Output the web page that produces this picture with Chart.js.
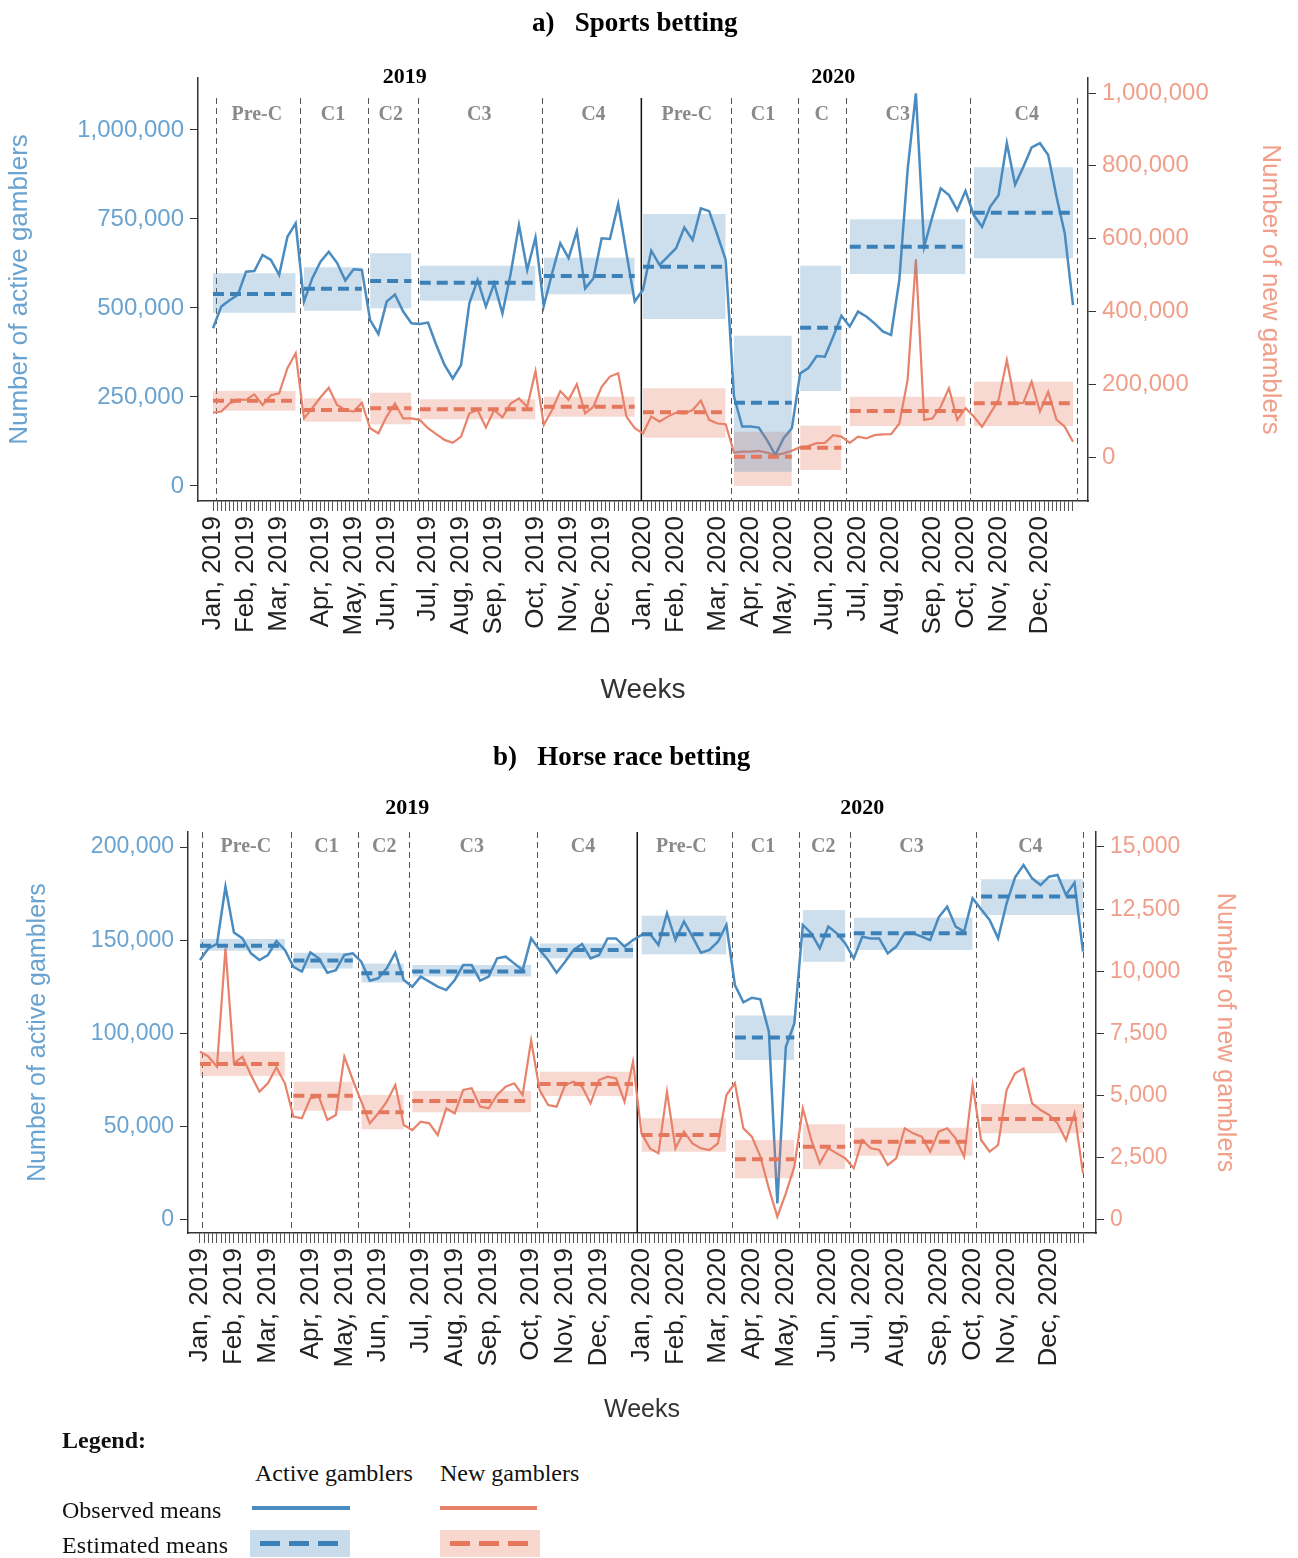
<!DOCTYPE html>
<html><head><meta charset="utf-8">
<script src="https://cdn.jsdelivr.net/npm/chart.js@4.4.1/dist/chart.umd.min.js"></script>
<style>
html,body{margin:0;padding:0;background:#fff;}
body{width:1298px;height:1558px;position:relative;overflow:hidden;font-family:"Liberation Serif","Times New Roman",serif;}
canvas{position:absolute;left:0;}
.ttl{position:absolute;font-weight:bold;font-size:27px;line-height:30px;white-space:pre;color:#000;}
.lg{position:absolute;font-size:24px;line-height:28px;color:#111;white-space:nowrap;}
.bx{position:absolute;}
</style></head><body>
<canvas id="cA" width="1298" height="730" style="top:0"></canvas>
<canvas id="cB" width="1298" height="700" style="top:730px"></canvas>
<div class="ttl" style="left:532px;top:7px">a)   Sports betting</div>
<div class="ttl" style="left:493px;top:741px">b)   Horse race betting</div>

<div class="lg" style="left:62px;top:1426px;font-weight:bold">Legend:</div>
<div class="lg" style="left:255px;top:1459px">Active gamblers</div>
<div class="lg" style="left:440px;top:1459px">New gamblers</div>
<div class="lg" style="left:62px;top:1496px">Observed means</div>
<div class="lg" style="left:62px;top:1531px;letter-spacing:0.2px">Estimated means</div>
<div class="bx" style="left:252px;top:1506px;width:98px;height:4px;background:#4a8bc0"></div>
<div class="bx" style="left:440px;top:1506px;width:97px;height:4px;background:#e8826a"></div>
<div class="bx" style="left:250px;top:1530px;width:100px;height:27px;background:rgba(74,139,192,0.3)"></div>
<div class="bx" style="left:260px;top:1541px;width:20px;height:5px;background:#3c80b8"></div>
<div class="bx" style="left:289px;top:1541px;width:20px;height:5px;background:#3c80b8"></div>
<div class="bx" style="left:318px;top:1541px;width:20px;height:5px;background:#3c80b8"></div>
<div class="bx" style="left:440px;top:1530px;width:100px;height:27px;background:rgba(232,130,106,0.32)"></div>
<div class="bx" style="left:450px;top:1541px;width:20px;height:5px;background:#e4775c"></div>
<div class="bx" style="left:479px;top:1541px;width:20px;height:5px;background:#e4775c"></div>
<div class="bx" style="left:508px;top:1541px;width:20px;height:5px;background:#e4775c"></div>

<script>
// ---------- categories / tick labels ----------
const monthTickWeeks = [0,4,8,13,17,21,26,30,34,39,43,47,52,56,61,65,69,74,78,82,87,91,95,100];
const monthLabels = ['Jan, 2019','Feb, 2019','Mar, 2019','Apr, 2019','May, 2019','Jun, 2019','Jul, 2019','Aug, 2019','Sep, 2019','Oct, 2019','Nov, 2019','Dec, 2019',
  'Jan, 2020','Feb, 2020','Mar, 2020','Apr, 2020','May, 2020','Jun, 2020','Jul, 2020','Aug, 2020','Sep, 2020','Oct, 2020','Nov, 2020','Dec, 2020'];
const yearLabels = ['2019','2020'];

// periods (first and last week index of each period)
const periodStart = [0,11,19,25,40,52,63,71,77,92];
const periodEnd   = [10,18,24,39,51,62,70,76,91,104];
const periodLabelsA = ['Pre-C','C1','C2','C3','C4','Pre-C','C1','C','C3','C4'];
const periodLabelsB = ['Pre-C','C1','C2','C3','C4','Pre-C','C1','C2','C3','C4'];
const periodLabelPosA = [5.3,14.5,21.5,32.2,46.0,57.3,66.5,73.6,82.8,98.4];
const periodLabelPosB = [5.4,14.9,21.7,32.0,45.1,56.7,66.3,73.4,83.8,97.8];
const yearLabelPosA = [23.2,75.0];
const yearLabelPosB = [24.4,78.0];
const boundariesA = [0.33,10.5,18.7,24.8,39.8,62.7,70.7,76.6,91.6,104.45];
const boundariesB = [0.2,10.7,18.6,24.65,39.66,62.7,70.5,76.6,91.4,104.0];
const yearDividerA = 51.8;
const yearDividerB = 51.5;

// ---------- a) Sports betting ----------
const sportsActive = [443000,504000,522000,537000,602000,604000,649000,635000,593000,700000,738000,518000,583000,630000,658000,627000,577000,609000,607000,466000,427000,518000,538000,490000,457000,455000,459000,396000,340000,302000,340000,513000,579000,504000,569000,485000,597000,733000,607000,698000,506000,597000,682000,640000,716000,555000,583000,696000,694000,792000,654000,518000,
551000,661000,621000,644000,668000,726000,691000,780000,772000,705000,635000,251000,167000,167000,164000,129000,87000,134000,162000,316000,331000,365000,363000,419000,478000,448000,490000,476000,457000,434000,424000,579000,888000,1103000,672000,757000,836000,817000,775000,829000,761000,728000,785000,817000,963000,846000,897000,951000,963000,930000,813000,710000,508000];
const sportsNew = [122000,125000,147000,158000,157000,172000,143000,170000,175000,244000,285000,106000,134000,164000,190000,143000,129000,125000,149000,79000,65000,111000,147000,106000,106000,102000,79000,63000,47000,39000,56000,120000,129000,81000,129000,109000,147000,161000,138000,236000,88000,129000,181000,157000,200000,120000,138000,193000,221000,230000,111000,79000,
65000,111000,97000,111000,122000,119000,129000,155000,102000,92000,90000,12000,15000,15000,17000,12000,5000,10000,17000,27000,30000,38000,39000,60000,56000,39000,56000,51000,60000,62000,63000,92000,212000,543000,102000,106000,138000,189000,102000,134000,111000,83000,120000,157000,266000,147000,149000,207000,125000,179000,103000,83000,42000];
const sportsActiveMean = [539300,554200,575800,571100,589900,616000,234000,444700,672300,767800];
const sportsActiveLow  = [486800,492400,499100,520500,538500,469100,40200,266900,595500,639600];
const sportsActiveHigh = [597500,614300,653600,618800,641300,764000,422200,618800,749100,895100];
const sportsNewMean = [154700,129100,133800,131000,138200,122800,800,25500,126400,147500];
const sportsNewLow  = [127200,97000,89800,103600,110700,53000,-79700,-35700,85200,85200];
const sportsNewHigh = [181300,161200,176700,158500,165700,188700,69500,86000,165700,206900];
const sportsLeftTicks = [0,250000,500000,750000,1000000];
const sportsRightTicks = [0,200000,400000,600000,800000,1000000];

// ---------- b) Horse race betting ----------
const horseActive = [139400,145700,148000,178700,154100,151000,143000,139400,142100,149600,144800,135800,133200,143500,140300,132600,134000,142100,143000,138500,128300,129600,134900,143300,128700,125100,130500,127800,125100,123300,128700,136700,136700,128300,130500,140300,141200,137600,134000,151000,144800,139400,132600,138500,144800,148000,140300,142100,151000,151000,146600,150100,
152800,153400,147500,164400,150100,160000,151900,143300,144800,149200,158200,126000,116700,119200,118300,101000,8900,92900,105400,158200,153700,145700,157300,153700,148300,140300,151900,151000,151000,143000,146600,153700,153700,151900,150100,162300,168000,157300,154600,172500,166600,160900,151000,169800,183700,190300,183200,179600,184100,185000,174300,180900,143900];
const horseNew = [6770,6568,6166,10925,6300,6568,5831,5161,5496,6139,5496,4156,4089,4893,4960,4022,4223,6568,5630,4759,3887,4290,4759,5429,3820,3619,3954,3887,3418,4491,4290,5228,5295,4558,4491,5027,5362,5496,5027,7212,5228,4625,4558,5429,5563,5362,4692,5630,5764,5697,4759,6367,
3485,2882,2681,5161,2882,3552,3083,2882,2815,3083,5027,5496,3686,3351,2547,1273,134,1072,2145,4491,3217,2279,2882,2681,2480,2078,3217,2882,2815,2212,2480,3686,3485,3351,2748,3552,3686,3284,2547,5429,3217,2748,3016,5228,5898,6099,4692,4424,4223,3887,3217,4290,1877];
const horseActiveMean = [147100,139100,132300,133200,144800,153200,97800,152500,153700,173400];
const horseActiveLow  = [144400,134900,127300,130500,140300,142500,85800,138500,144800,163500];
const horseActiveHigh = [150700,143300,137600,136700,148300,163200,109600,166200,162100,182700];
const horseNewMean = [6274,5000,4330,4786,5469,3418,2440,2949,3150,4062];
const horseNewLow  = [5791,4397,3646,4330,4987,2748,1676,2051,2587,3485];
const horseNewHigh = [6770,5563,5027,5188,5965,4089,3217,3847,3713,4665];
const horseLeftTicks = [0,50000,100000,150000,200000];
const horseRightTicks = [0,2500,5000,7500,10000,12500,15000];

// ---------- styles ----------
const BLUE = '#4a8bc0', BLUE_D = '#3c80b8', SAL = '#e8826a', SAL_D = '#e4775c';
const BLUE_F = 'rgba(74,139,192,0.28)', SAL_F = 'rgba(232,130,106,0.30)';
const BLUE_T = '#6aa3d0', SAL_T = '#f0a08a';
const SANS = '"Liberation Sans", Arial, sans-serif';
const SERIF = '"Liberation Serif", "Times New Roman", serif';
Chart.defaults.font.family = SANS;

// half-week minor tick positions over the 105 weeks
const xTickPositions = [];
for (let w = 0; w <= 208; w++) xTickPositions.push(w / 2);

const annotate = {
  id: 'annotate',
  beforeDatasetsDraw(chart, args, o) {
    const {ctx, chartArea, scales: {x}} = chart;
    ctx.save();
    ctx.strokeStyle = '#555'; ctx.lineWidth = 1; ctx.setLineDash([6, 4]);
    o.bounds.forEach(b => {
      const px = Math.round(x.getPixelForValue(b)) + 0.5;
      ctx.beginPath(); ctx.moveTo(px, chartArea.top + o.lineTop); ctx.lineTo(px, chartArea.bottom); ctx.stroke();
    });
    ctx.setLineDash([]); ctx.strokeStyle = '#111'; ctx.lineWidth = 1.5;
    const yx = x.getPixelForValue(o.yearDiv);
    ctx.beginPath(); ctx.moveTo(yx, chartArea.top + o.lineTop); ctx.lineTo(yx, chartArea.bottom); ctx.stroke();
    ctx.restore();
  },
  afterDraw(chart, args, o) {
    const {ctx, chartArea, scales: {x}} = chart;
    ctx.save();
    ctx.textAlign = 'center'; ctx.textBaseline = 'middle';
    ctx.fillStyle = '#8a8a8a'; ctx.font = 'bold 20px ' + SERIF;
    o.periodText.forEach((t, i) => ctx.fillText(t, x.getPixelForValue(o.periodPos[i]), chartArea.top + o.periodY));
    ctx.fillStyle = '#000'; ctx.font = 'bold 22px ' + SERIF;
    yearLabels.forEach((t, i) => ctx.fillText(t, x.getPixelForValue(o.yearPos[i]), chartArea.top + o.yearY));
    ctx.restore();
  }
};

function buildDatasets(active, fresh, aLow, aHigh, aMean, nLow, nHigh, nMean) {
  const ds = [];
  ds.push({data: active.map((v, i) => ({x: i, y: v})), yAxisID: 'yL', borderColor: BLUE, borderWidth: 2.5,
    pointRadius: 0, fill: false, tension: 0, order: 40});
  ds.push({data: fresh.map((v, i) => ({x: i, y: v})), yAxisID: 'yR', borderColor: SAL, borderWidth: 2.2,
    pointRadius: 0, fill: false, tension: 0, order: 41});
  const bands = [[aLow, aHigh, 'yL', BLUE_F], [nLow, nHigh, 'yR', SAL_F]];
  bands.forEach(([lo, hi, ax, col]) => {
    periodStart.forEach((s, k) => {
      const e = periodEnd[k];
      ds.push({data: [{x: s, y: hi[k]}, {x: e, y: hi[k]}], yAxisID: ax, borderColor: 'rgba(0,0,0,0)', borderWidth: 1,
        pointRadius: 0, fill: '+1', backgroundColor: col, order: 30});
      ds.push({data: [{x: s, y: lo[k]}, {x: e, y: lo[k]}], yAxisID: ax, borderColor: 'rgba(0,0,0,0)', borderWidth: 1,
        pointRadius: 0, fill: false, order: 30});
    });
  });
  const means = [[aMean, 'yL', BLUE_D], [nMean, 'yR', SAL_D]];
  means.forEach(([m, ax, col]) => {
    const pts = [];
    periodStart.forEach((s, k) => { pts.push({x: s, y: m[k]}, {x: periodEnd[k], y: m[k]}, {x: periodEnd[k] + 0.5, y: null}); });
    ds.push({data: pts, yAxisID: ax, borderColor: col, borderWidth: 4, borderDash: [11, 6], pointRadius: 0,
      fill: false, spanGaps: false, order: 10});
  });
  return ds;
}

function makeChart(id, g) {
  return new Chart(document.getElementById(id), {
    type: 'line',
    data: {datasets: buildDatasets(...g.series)},
    plugins: [annotate],
    options: {
      responsive: false, animation: false, devicePixelRatio: 1, parsing: true,
      layout: {padding: {top: g.top, left: 0, right: 0, bottom: 0}},
      plugins: {legend: {display: false}, tooltip: {enabled: false},
        annotate: {bounds: g.bounds, yearDiv: g.yearDiv, lineTop: g.lineTop, periodText: g.periodText,
          periodPos: g.periodPos, periodY: g.periodY, yearPos: g.yearPos, yearY: g.yearY}},
      scales: {
        x: {type: 'linear', min: g.xmin, max: g.xmax,
          afterBuildTicks: s => { s.ticks = xTickPositions.map(v => ({value: v})); },
          afterFit: s => { s.height = g.xHeight; },
          ticks: {autoSkip: false, minRotation: 90, maxRotation: 90, padding: 5, color: '#222',
            font: {size: g.monthSize}, callback: v => { const k = monthTickWeeks.indexOf(v); return k >= 0 ? monthLabels[k] : ''; }},
          grid: {drawOnChartArea: false, drawTicks: true, tickLength: 10, color: '#555'},
          border: {display: true, color: '#333', width: 1.5},
          title: {display: true, text: 'Weeks', color: '#333', font: {size: g.weeksSize}, padding: {top: 0, bottom: g.weeksPad}}},
        yL: {type: 'linear', position: 'left', min: g.lmin, max: g.lmax,
          afterBuildTicks: s => { s.ticks = g.lticks.map(v => ({value: v})); },
          afterFit: s => { s.width = g.lw; },
          ticks: {color: BLUE_T, font: {size: g.tickSize}, padding: 6, callback: v => v.toLocaleString('en-US')},
          grid: {drawOnChartArea: false, drawTicks: true, tickLength: 8, color: '#333'},
          border: {display: true, color: '#333', width: 1.5},
          title: {display: true, text: 'Number of active gamblers', color: BLUE_T, font: {size: g.titleSize}, padding: {top: g.ltPad, bottom: 0}}},
        yR: {type: 'linear', position: 'right', min: g.rmin, max: g.rmax,
          afterBuildTicks: s => { s.ticks = g.rticks.map(v => ({value: v})); },
          afterFit: s => { s.width = g.rw; },
          ticks: {color: SAL_T, font: {size: g.tickSize}, padding: 6, callback: v => v.toLocaleString('en-US')},
          grid: {drawOnChartArea: false, drawTicks: true, tickLength: 8, color: '#333'},
          border: {display: true, color: '#333', width: 1.5},
          title: {display: true, text: 'Number of new gamblers', color: SAL_T, font: {size: g.titleSize}, padding: {top: g.rtPad, bottom: 0}}}
      }
    }
  });
}

makeChart('cA', {
  series: [sportsActive, sportsNew, sportsActiveLow, sportsActiveHigh, sportsActiveMean, sportsNewLow, sportsNewHigh, sportsNewMean],
  top: 78, xmin: -1.814, xmax: 105.814, xHeight: 229, lmin: -42135, lmax: 1146067, rmin: -120879, rmax: 1041209,
  lticks: sportsLeftTicks, rticks: sportsRightTicks, lw: 198, rw: 210,
  monthSize: 26, weeksSize: 28, weeksPad: 23, tickSize: 24, titleSize: 26, ltPad: 4, rtPad: 12,
  bounds: boundariesA, yearDiv: yearDividerA, lineTop: 20, periodText: periodLabelsA, periodPos: periodLabelPosA,
  periodY: 37, yearPos: yearLabelPosA, yearY: -1
});
makeChart('cB', {
  series: [horseActive, horseNew, horseActiveLow, horseActiveHigh, horseActiveMean, horseNewLow, horseNewHigh, horseNewMean],
  top: 102, xmin: -1.4133, xmax: 105.531, xHeight: 197, lmin: -6971, lmax: 208043, rmin: -523, rmax: 15603,
  lticks: horseLeftTicks, rticks: horseRightTicks, lw: 188, rw: 202,
  monthSize: 26, weeksSize: 25, weeksPad: 5, tickSize: 23, titleSize: 25, ltPad: 23, rtPad: 58,
  bounds: boundariesB, yearDiv: yearDividerB, lineTop: 0, periodText: periodLabelsB, periodPos: periodLabelPosB,
  periodY: 15, yearPos: yearLabelPosB, yearY: -24
});
</script>
</body></html>
